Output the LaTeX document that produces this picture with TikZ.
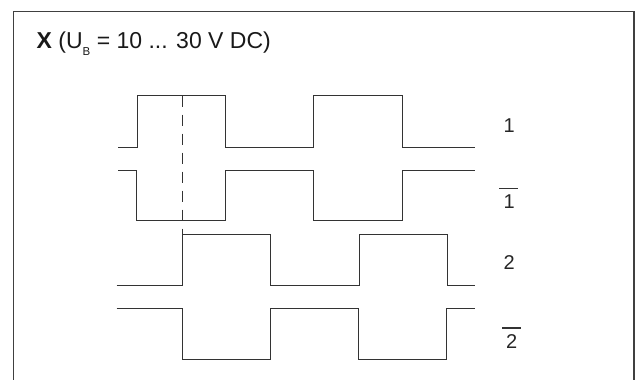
\documentclass[tikz,border=0pt]{standalone}
\usepackage{fontspec}
\setmainfont{Liberation Sans}
\tikzset{
  wave/.style={draw=black!80, line width=1.5pt, line join=miter},
  frame/.style={draw=black!75, line width=1.5pt},
  marker/.style={draw=black!80, line width=1.5pt, dash pattern=on 11pt off 8pt},
  lab/.style={inner sep=0pt, font=\fontsize{20}{24}\selectfont, text=black!85},
  ovl/.style={draw=black!80, line width=1.1pt},
}
\begin{document}
\begin{tikzpicture}[x=1pt,y=-1pt]
\useasboundingbox (0,0) rectangle (635,380);
% frame (open at bottom)
\draw[frame] (13.5,380) -- (13.5,11.5) -- (633.8,11.5) -- (633.8,380);
% title
\node[anchor=base west, inner sep=0pt, font=\fontsize{23}{26}\selectfont, text=black!90] (title) at (36.5,48.5)
  {\textbf{X} (U\raisebox{-7.3pt}{\fontsize{11.5}{12}\selectfont B} = 10 ... 30 V DC)};
% signal 1
\draw[wave] (118,147.5) -- (137.5,147.5) -- (137.5,95.5) -- (225.5,95.5) -- (225.5,147.5)
  -- (313.5,147.5) -- (313.5,95.5) -- (402.5,95.5) -- (402.5,147.5) -- (475,147.5);
% signal 1 inverted
\draw[wave] (118,170.5) -- (136.5,170.5) -- (136.5,220.5) -- (225.5,220.5) -- (225.5,170.5)
  -- (313.5,170.5) -- (313.5,220.5) -- (402.5,220.5) -- (402.5,170.5) -- (475,170.5);
% signal 2
\draw[wave] (116.5,285.5) -- (182.5,285.5) -- (182.5,234.5) -- (270.5,234.5) -- (270.5,285.5)
  -- (359.5,285.5) -- (359.5,234.5) -- (447.5,234.5) -- (447.5,285.5) -- (475,285.5);
% signal 2 inverted
\draw[wave] (116.5,308.5) -- (182.5,308.5) -- (182.5,359.5) -- (270.5,359.5) -- (270.5,308.5)
  -- (358.5,308.5) -- (358.5,359.5) -- (446.5,359.5) -- (446.5,308.5) -- (475,308.5);
% dashed marker
\coordinate (mtop) at (182.5,95.5);
\coordinate (mbot) at (182.5,234.5);
\draw[marker] (mtop) -- (mbot);
% labels
\node[lab] (l1) at (509.3,125.3) {1};
\node[lab] (l1b) at (509.3,201.7) {1};
\node[lab] (l2) at (509.3,262.7) {2};
\node[lab] (l2b) at (511.7,341.7) {2};
\draw[ovl] ([shift={(-10,-6.5)}]l1b.north) -- ++(19,0);
\draw[ovl] ([shift={(-9.5,-6.5)}]l2b.north) -- ++(19,0);
\end{tikzpicture}
\end{document}
